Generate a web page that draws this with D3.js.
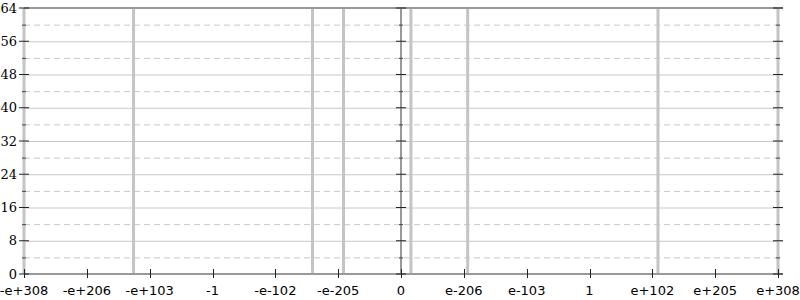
<!DOCTYPE html>
<html>
<head>
<meta charset="utf-8">
<script src="https://cdn.jsdelivr.net/npm/d3@7"></script>
<style>
  body { margin: 0; background: #fff; }
  svg { display: block; }
  .xlab { font-family: "DejaVu Sans", sans-serif; font-size: 13px; fill: #000; }
  .ylab { font-family: "DejaVu Serif", serif; font-size: 13px; fill: #000; }
</style>
</head>
<body>
<svg id="chart" width="800" height="300"></svg>
<script>
// bars: double values (placed by their bit pattern) and their counts
var barValues = [-Number.MAX_VALUE, -1.6e129, -5e-164, -1e-214, 2e-292, 1e-199, 1.3e112, Number.MAX_VALUE];
var barCounts = [64, 64, 64, 64, 64, 64, 64, 64];
var xTickLabels = ['-e+308', '-e+206', '-e+103', '-1', '-e-102', '-e-205', '0',
                   'e-206', 'e-103', '1', 'e+102', 'e+205', 'e+308'];
var yMajor = [0, 8, 16, 24, 32, 40, 48, 56, 64];
var yMinor = [4, 12, 20, 28, 36, 44, 52, 60];

var dv = new DataView(new ArrayBuffer(8));
function ord(v) {
  dv.setFloat64(0, Math.abs(v));
  return Math.sign(v) * (dv.getUint32(0) * 4294967296 + dv.getUint32(4));
}
var maxOrd = ord(Number.MAX_VALUE);

var m = { left: 24, right: 778, top: 8, bottom: 274 };
var x = d3.scaleLinear().domain([-maxOrd, maxOrd]).range([m.left, m.right]);
var y = d3.scaleLinear().domain([0, 64]).range([m.bottom, m.top]);

var svg = d3.select('#chart');

// grid
svg.append('g').selectAll('line')
  .data(yMajor.filter(function(d) { return d > 0 && d < 64; }))
  .enter().append('line')
  .attr('x1', m.left).attr('x2', m.right + 5)
  .attr('y1', function(d) { return y(d) + 0.5; })
  .attr('y2', function(d) { return y(d) + 0.5; })
  .attr('stroke', '#c8c8c8');
svg.append('g').selectAll('line')
  .data(yMinor)
  .enter().append('line')
  .attr('x1', m.left).attr('x2', m.right + 5)
  .attr('y1', function(d) { return y(d) + 0.5; })
  .attr('y2', function(d) { return y(d) + 0.5; })
  .attr('stroke', '#c8c8c8')
  .attr('stroke-dasharray', '6,4');

// bars
svg.append('g').selectAll('rect')
  .data(barValues)
  .enter().append('rect')
  .attr('x', function(d) { return x(ord(d)) - 1.5; })
  .attr('width', 3)
  .attr('y', function(d, i) { return y(barCounts[i]); })
  .attr('height', function(d, i) { return y(0) - y(barCounts[i]); })
  .attr('fill', '#c4c4c4');

// frame lines
svg.append('line').attr('x1', m.left).attr('x2', m.right + 5)
  .attr('y1', m.top).attr('y2', m.top)
  .attr('stroke', '#999').attr('stroke-width', 2);
svg.append('line').attr('x1', m.left).attr('x2', m.right + 5)
  .attr('y1', m.bottom).attr('y2', m.bottom)
  .attr('stroke', '#999').attr('stroke-width', 2);
svg.append('line').attr('x1', x(0)).attr('x2', x(0))
  .attr('y1', m.top).attr('y2', m.bottom)
  .attr('stroke', '#999').attr('stroke-width', 2);

// y ticks on left, centre and right
[x(-maxOrd), x(0), x(maxOrd)].forEach(function(px) {
  var g = svg.append('g');
  g.selectAll('.maj').data(yMajor).enter().append('line')
    .attr('x1', px - 5).attr('x2', px + 5)
    .attr('y1', function(d) { return y(d); })
    .attr('y2', function(d) { return y(d); })
    .attr('stroke', '#222');
  g.selectAll('.min').data(yMinor).enter().append('line')
    .attr('x1', px - 2).attr('x2', px + 2)
    .attr('y1', function(d) { return y(d) + 0.5; })
    .attr('y2', function(d) { return y(d) + 0.5; })
    .attr('stroke', '#444');
});

svg.append('g').selectAll('text')
  .data(yMajor).enter().append('text')
  .attr('class', 'ylab')
  .attr('x', 17)
  .attr('y', function(d) { return y(d); })
  .attr('dy', '0.35em')
  .attr('text-anchor', 'end')
  .text(function(d) { return d; });

// x ticks
var xTicks = xTickLabels.map(function(l, i) { return (i - 6) / 6 * maxOrd; });
var xg = svg.append('g');
xg.selectAll('line').data(xTicks).enter().append('line')
  .attr('x1', function(d) { return Math.round(x(d)) + 0.5; })
  .attr('x2', function(d) { return Math.round(x(d)) + 0.5; })
  .attr('y1', m.bottom - 5).attr('y2', m.bottom + 4)
  .attr('stroke', '#222');
xg.selectAll('text').data(xTicks).enter().append('text')
  .attr('class', 'xlab')
  .attr('x', function(d) { return x(d); })
  .attr('y', 295)
  .attr('text-anchor', 'middle')
  .text(function(d, i) { return xTickLabels[i]; });
</script>
</body>
</html>
